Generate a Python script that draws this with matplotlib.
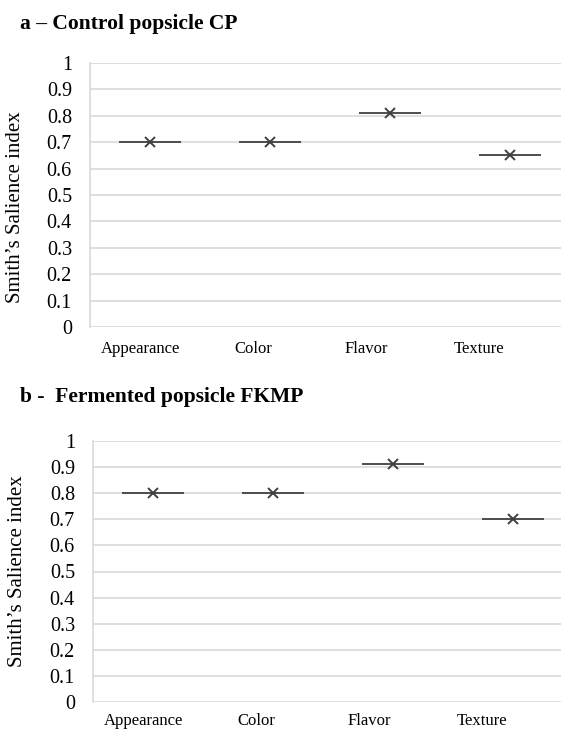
import numpy as np
import matplotlib
matplotlib.use("Agg")
import matplotlib.pyplot as plt

plt.rcParams['font.family'] = ['Liberation Serif', 'DejaVu Serif']

categories = ["Appearance", "Color", "Flavor", "Texture"]
cp_index = [0.70, 0.70, 0.81, 0.65]
fkmp_index = [0.80, 0.80, 0.91, 0.70]
yticks = [0, 0.1, 0.2, 0.3, 0.4, 0.5, 0.6, 0.7, 0.8, 0.9, 1]
ytick_labels = ["0", "0.1", "0.2", "0.3", "0.4", "0.5", "0.6", "0.7", "0.8", "0.9", "1"]

W, H = 561, 731
fig = plt.figure(figsize=(W / 100, H / 100), dpi=100)

grid_col = "#d9d9d9"
mark_col = "#404040"
px_per_cat = 120.0


def panel(left, top, bottom, values, title, title_y, xpad, ylab_x, ylab_y):
    ax = fig.add_axes([left / W, 1 - bottom / H, (W - left) / W, (bottom - top) / H])
    x = np.arange(len(values))
    # first category centre sits 60 px right of the axis
    x_right = -0.5 + (W - left) / px_per_cat
    ax.set_xlim(-0.5, x_right)
    ax.set_ylim(0, 1)
    ax.hlines(values, x - 0.255, x + 0.255, color=mark_col, lw=1.3, zorder=3)
    ax.plot(x, values, ls="none", marker="x", ms=7, mew=1.4, color=mark_col, zorder=4)
    ax.set_yticks(yticks)
    ax.set_yticklabels(ytick_labels, fontsize=14.5)
    ax.grid(axis="y", color=grid_col, lw=1.2)
    ax.set_axisbelow(True)
    for s in ["top", "right", "bottom"]:
        ax.spines[s].set_visible(False)
    ax.spines["left"].set_color(grid_col)
    ax.spines["left"].set_linewidth(1.2)
    ax.tick_params(axis="y", length=0, pad=13)
    # category labels sit a bit left of the markers, as in the source
    ax.set_xticks(np.arange(len(categories)) * 0.94 - 0.08)
    ax.set_xticklabels(categories, fontsize=12)
    ax.tick_params(axis="x", length=0, pad=xpad)
    ax.set_ylabel("Smith\u2019s Salience index", fontsize=15)
    ax.yaxis.set_label_coords(ylab_x, ylab_y)
    fig.text(20 / W, 1 - title_y / H, title, fontsize=15.5, fontweight="bold",
             ha="left", va="baseline")
    return ax


panel(90, 63, 327, cp_index, "a \u2013 Control popsicle CP", 29, 10, -0.138, 0.455)
panel(93, 441, 702, fkmp_index, "b -  Fermented popsicle FKMP", 402, 8, -0.141, 0.5)

fig.savefig("out.png", dpi=100)
